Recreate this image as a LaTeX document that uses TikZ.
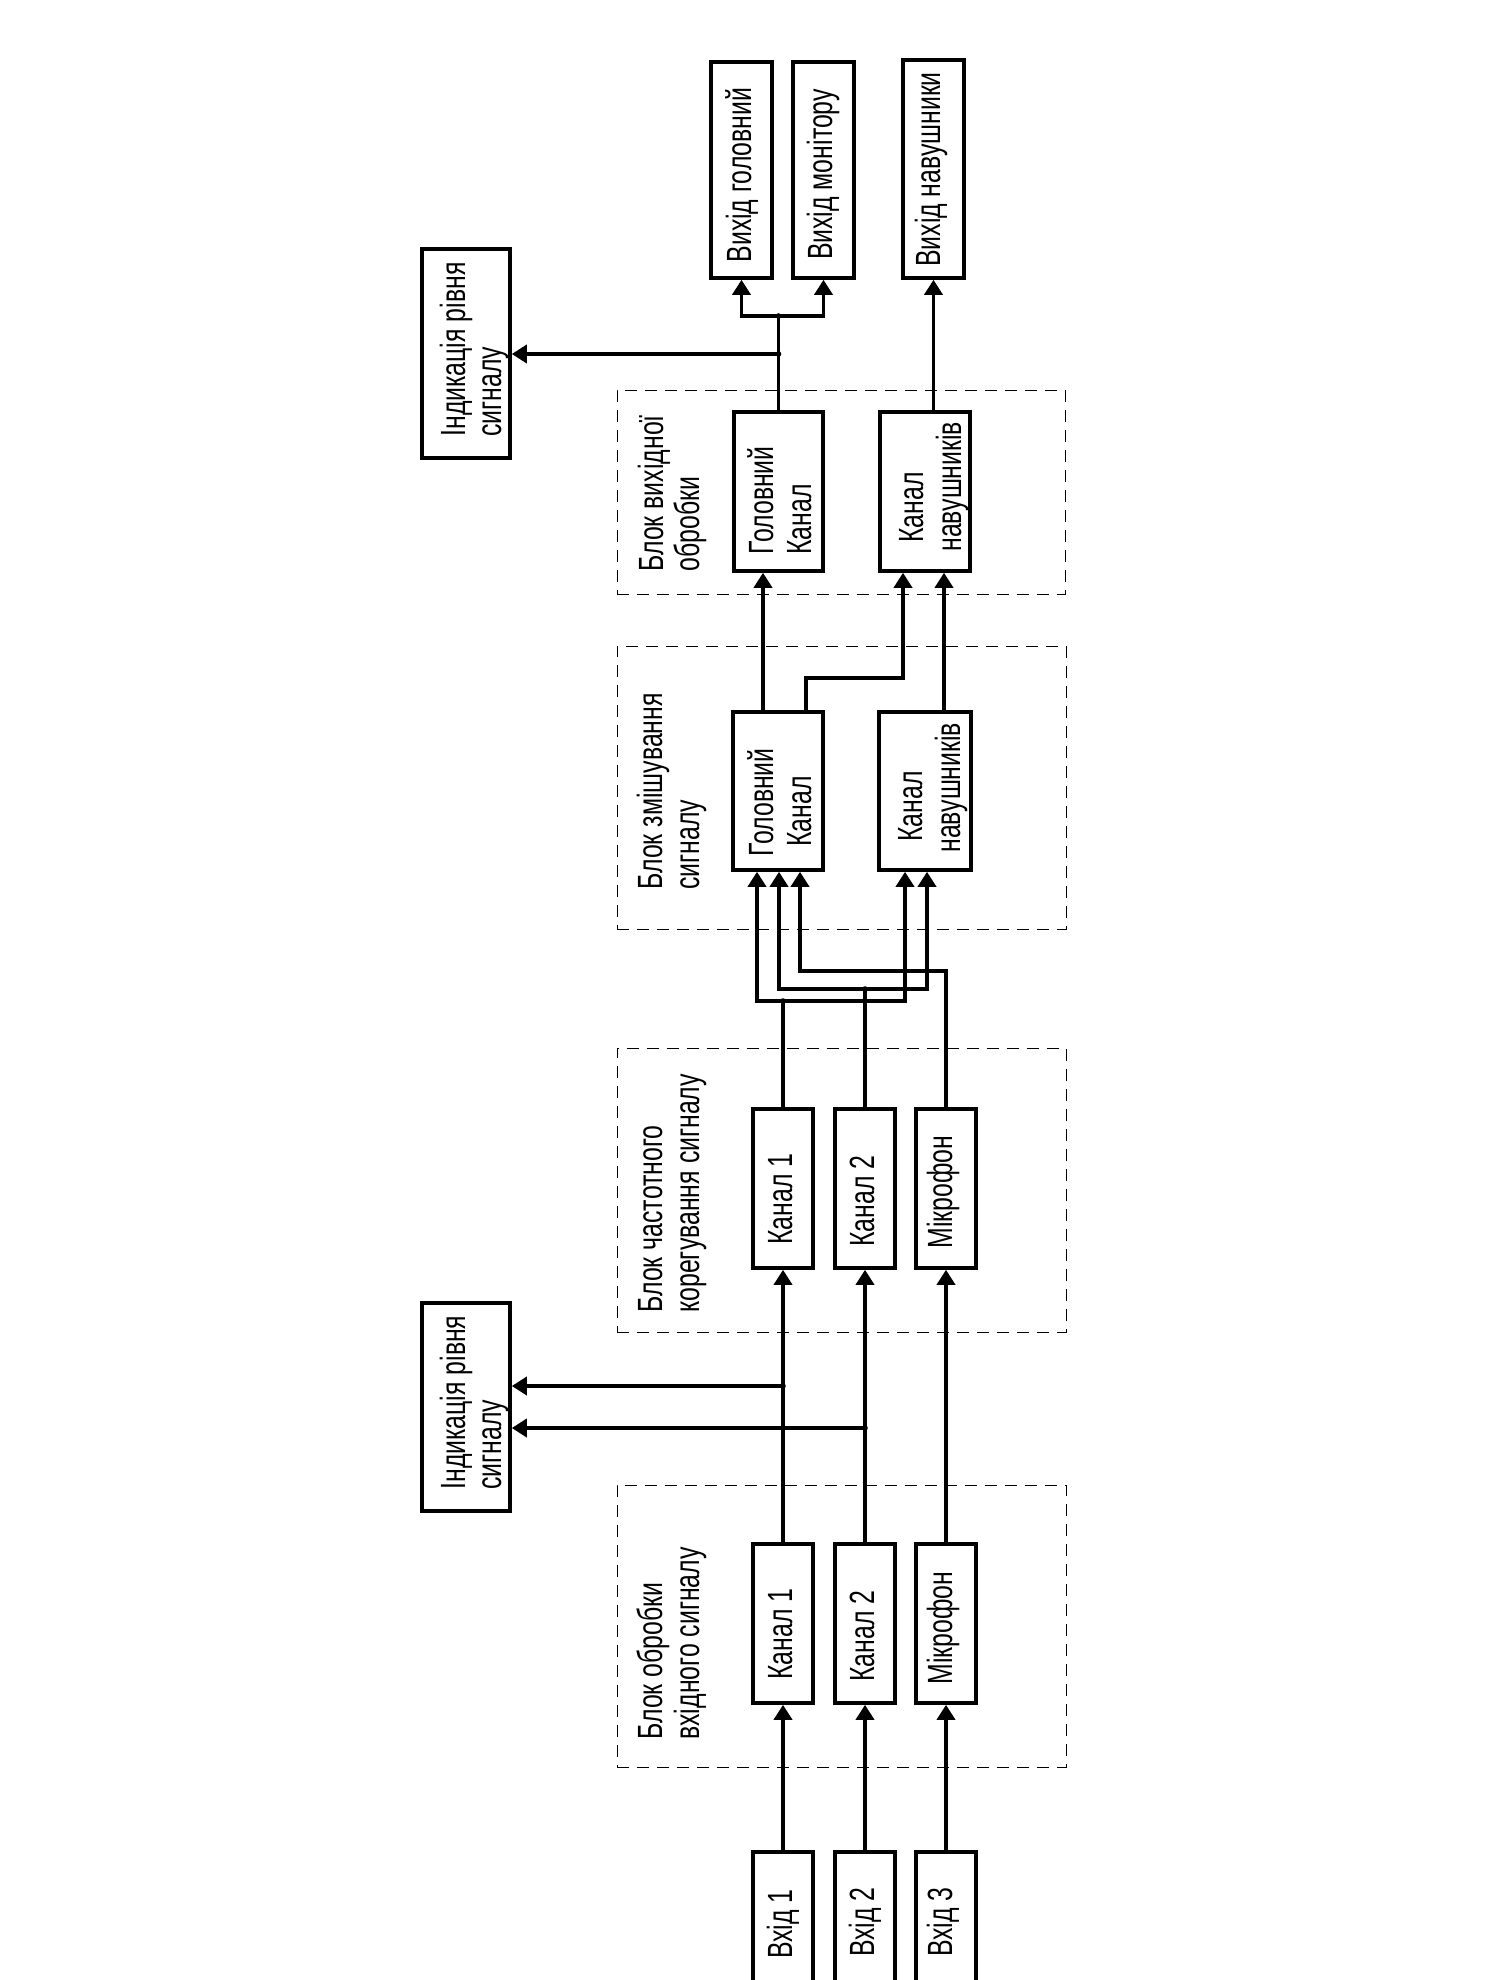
\documentclass[tikz,border=0pt]{standalone}
\usepackage{fontspec}
\setmainfont{Liberation Sans}[FakeStretch=0.71]
\usetikzlibrary{arrows.meta}
\begin{document}
\begin{tikzpicture}[x=0.5pt,y=-0.5pt,
  blk/.style 2 args={draw, line width=1.8pt, inner sep=0pt, minimum width=#1, minimum height=#2},
  frame/.style 2 args={draw, line width=0.5pt, dash pattern=on 6pt off 4pt, inner sep=0pt, minimum width=#1, minimum height=#2},
  wire/.style={line width=1.8pt, line join=miter},
  conn/.style={wire, -{Triangle[length=7.5pt,width=9pt]}},
  txt/.style={inner sep=0pt, rotate=90, font=\fontsize{17.5}{20}\selectfont},
  jdot/.style={fill, circle, inner sep=0pt, minimum size=2.8pt}
]
\path[use as bounding box, fill=white] (0,0) rectangle (1493,1980);

% dashed frames
\node[frame={224.5pt}{141pt}] (frin) at (841.5,1626) {};
\node[frame={224.5pt}{142pt}] (frfq) at (841.5,1190) {};
\node[frame={224.5pt}{141.5pt}] (frmx) at (841.5,787.5) {};
\node[frame={224pt}{102pt}] (frout) at (841,492) {};

% inputs
\node[blk={30pt}{73pt}] (in1) at (783,1925) {};
\node[blk={30pt}{73pt}] (in2) at (865,1925) {};
\node[blk={30pt}{73pt}] (in3) at (946,1925) {};
\node[txt, anchor=base] (tin1) at (792,1924) {Вхід 1};
\node[txt, anchor=base] (tin2) at (874,1922) {Вхід 2};
\node[txt, anchor=base] (tin3) at (952,1922) {Вхід 3};

% input processing
\node[blk={30pt}{79.5pt}] (a1) at (783,1623.5) {};
\node[blk={30pt}{79.5pt}] (a2) at (865,1623.5) {};
\node[blk={30pt}{79.5pt}] (a3) at (946,1623.5) {};
\node[txt, anchor=base] (ta1) at (792,1634) {Канал 1};
\node[txt, anchor=base] (ta2) at (874,1636) {Канал 2};
\node[txt, anchor=base] (ta3) at (952,1628) {Мікрофон};
\node[txt, anchor=base west] (tfrin1) at (662,1740) {Блок обробки};
\node[txt, anchor=base west] (tfrin2) at (699,1740) {вхідного сигналу};

% frequency correction
\node[blk={30pt}{79.5pt}] (f1) at (783,1188.5) {};
\node[blk={30pt}{79.5pt}] (f2) at (865,1188.5) {};
\node[blk={30pt}{79.5pt}] (f3) at (946,1188.5) {};
\node[txt, anchor=base] (tf1) at (792,1199) {Канал 1};
\node[txt, anchor=base] (tf2) at (874,1201) {Канал 2};
\node[txt, anchor=base] (tf3) at (952,1192) {Мікрофон};
\node[txt, anchor=base west] (tfrfq1) at (662,1313) {Блок частотного};
\node[txt, anchor=base west] (tfrfq2) at (699,1313) {корегування сигналу};

% indication (lower)
\node[blk={44pt}{104pt}] (ind1) at (466,1407) {};
\node[txt, anchor=base west] (tind1a) at (465,1490) {Індикація рівня};
\node[txt, anchor=base west] (tind1b) at (501,1490) {сигналу};

% mixing
\node[blk={45pt}{79pt}] (mg) at (778,791) {};
\node[blk={46pt}{79pt}] (mh) at (925,791) {};
\node[txt, anchor=base west] (tmg1) at (773,857) {Головний};
\node[txt, anchor=base west] (tmg2) at (811,847) {Канал};
\node[txt, anchor=base west] (tmh1) at (922,842) {Канал};
\node[txt, anchor=base west] (tmh2) at (960,853) {навушників};
\node[txt, anchor=base west] (tfrmx1) at (662,890) {Блок змішування};
\node[txt, anchor=base west] (tfrmx2) at (699,890) {сигналу};

% output processing
\node[blk={44.5pt}{79.5pt}] (og) at (778.5,491.5) {};
\node[blk={45pt}{79.5pt}] (oh) at (925,491.5) {};
\node[txt, anchor=base west] (tog1) at (773,555) {Головний};
\node[txt, anchor=base west] (tog2) at (811,555) {Канал};
\node[txt, anchor=base west] (toh1) at (923,543) {Канал};
\node[txt, anchor=base west] (toh2) at (961,552) {навушників};
\node[txt, anchor=base west] (tfrout1) at (663,572) {Блок вихідної};
\node[txt, anchor=base west] (tfrout2) at (699,572) {обробки};

% indication (upper)
\node[blk={44pt}{104.5pt}] (ind2) at (466,353.5) {};
\node[txt, anchor=base west] (tind2a) at (465,437) {Індикація рівня};
\node[txt, anchor=base west] (tind2b) at (501,437) {сигналу};

% outputs
\node[blk={30.5pt}{108pt}] (vg) at (741.5,170) {};
\node[blk={30.5pt}{108pt}] (vm) at (823.5,170) {};
\node[blk={30.5pt}{109pt}] (vn) at (933.5,169) {};
\node[txt, anchor=base] (tvg) at (751,175) {Вихід головний};
\node[txt, anchor=base] (tvm) at (832,174.5) {Вихід монітору};
\node[txt, anchor=base] (tvn) at (940,169.5) {Вихід навушники};

% connectors: inputs -> input processing -> frequency block
\draw[conn] (in1.north) -- (a1.south);
\draw[conn] (in2.north) -- (a2.south);
\draw[conn] (in3.north) -- (a3.south);
\draw[conn] (a1.north) -- (f1.south);
\draw[conn] (a2.north) -- (f2.south);
\draw[conn] (a3.north) -- (f3.south);

% lower indication taps
\coordinate (j1) at (783,1386);
\coordinate (j2) at (865,1428);
\draw[conn] (j1) -- (j1 -| ind1.east);
\draw[conn] (j2) -- (j2 -| ind1.east);

% routing to mixing
\coordinate (rA1) at (757,1001);
\coordinate (rA2) at (905,1001);
\coordinate (rB1) at (779,989);
\coordinate (rB2) at (927,989);
\coordinate (rC1) at (800,971);
\draw[wire] (f1.north) -- (f1.north |- rA1);
\draw[conn] (rA2) -- (rA1) -- (rA1 |- mg.south);
\draw[conn] (rA1) -- (rA2) -- (rA2 |- mh.south);
\draw[wire] (f2.north) -- (f2.north |- rB1);
\draw[conn] (rB2) -- (rB1) -- (rB1 |- mg.south);
\draw[conn] (rB1) -- (rB2) -- (rB2 |- mh.south);
\draw[conn] (f3.north) -- (f3.north |- rC1) -- (rC1) -- (rC1 |- mg.south);

% mixing -> output processing
\coordinate (mgo1) at (763,712);
\coordinate (mgo2) at (806,712);
\coordinate (bend) at (903,678);
\coordinate (mho) at (944,712);
\draw[conn] (mgo1) -- (mgo1 |- og.south);
\draw[conn] (mgo2) -- (mgo2 |- bend) -- (bend) -- (bend |- oh.south);
\draw[conn] (mho) -- (mho |- oh.south);

% output processing -> outputs
\coordinate (split) at (778.5,316);
\coordinate (j3) at (778.5,354);
\draw[wire] (og.north) -- (split);
\draw[conn] (split) -- (split -| vg.south) -- (vg.south);
\draw[conn] (split) -- (split -| vm.south) -- (vm.south);
\draw[conn] (j3) -- (j3 -| ind2.east);
\draw[conn] (oh.north -| vn.south) -- (vn.south);

% junction marks
\node[jdot] (d1) at (j1) {};
\node[jdot] (d2) at (j2) {};
\node[jdot] (d3) at (j3) {};
\node[jdot] (d4) at (split) {};
\node[jdot] (d5) at (f1.north |- rA1) {};
\node[jdot] (d6) at (f2.north |- rB1) {};
\end{tikzpicture}
\end{document}
